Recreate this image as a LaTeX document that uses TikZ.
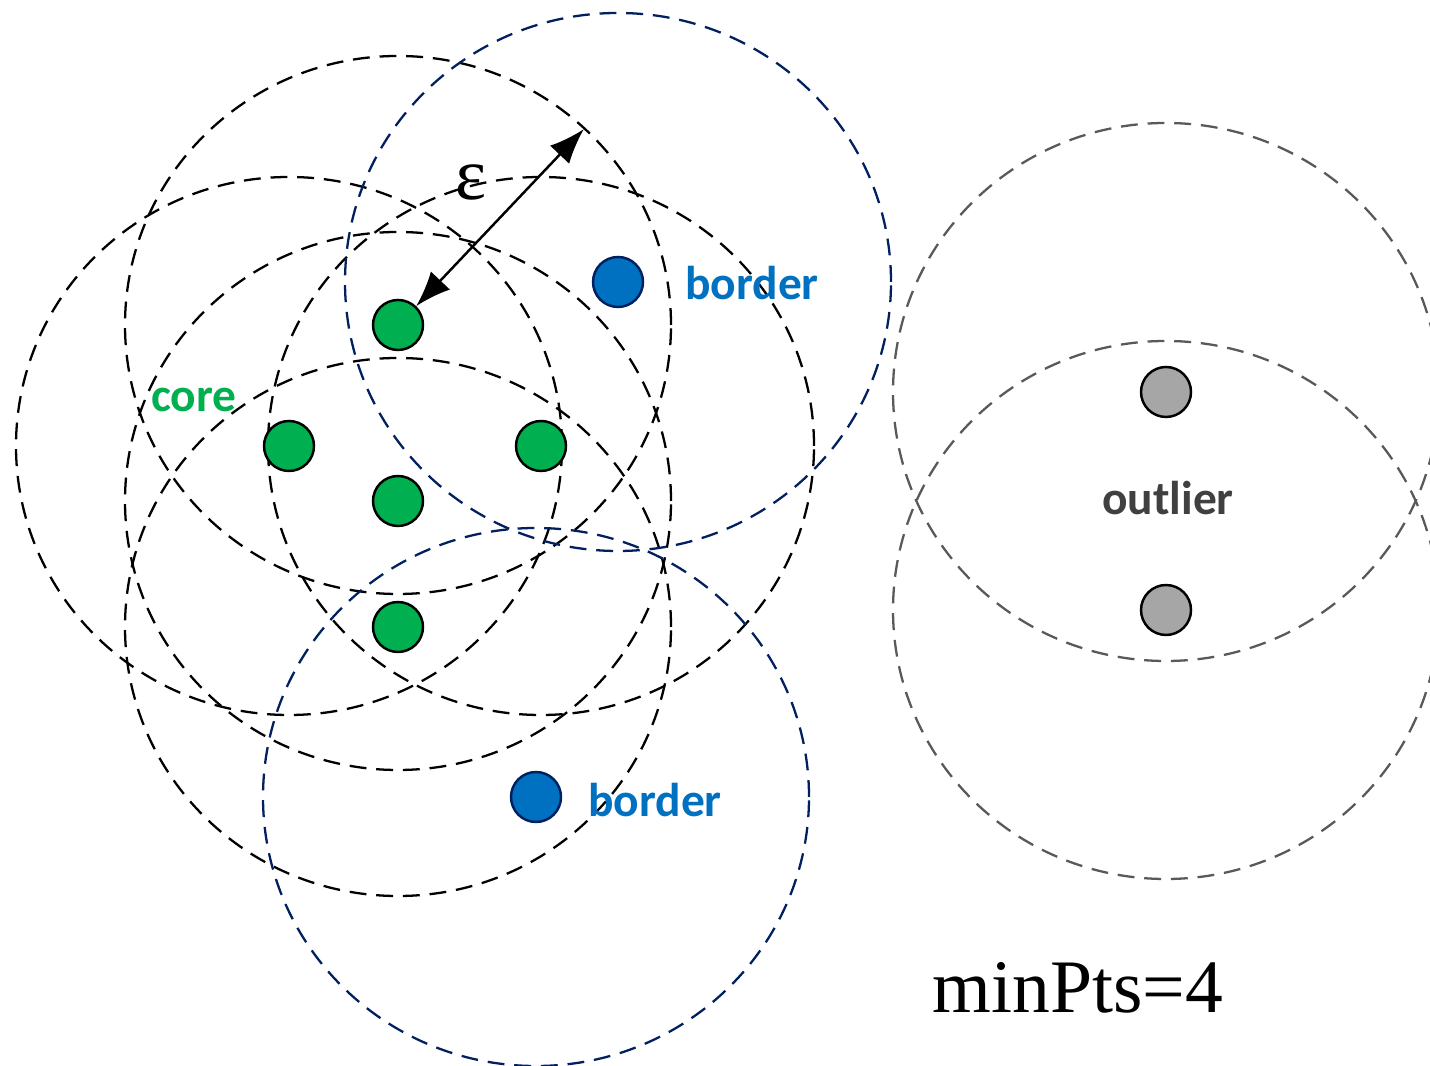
\documentclass[tikz,border=0pt]{standalone}
\usepackage{fontspec}
\setmainfont{Liberation Serif}
\newfontfamily\labelfont{Carlito}
\usetikzlibrary{calc, arrows.meta}

\definecolor{coregreen}{HTML}{00B050}
\definecolor{borderblue}{HTML}{0070C0}
\definecolor{bordernavy}{HTML}{002060}
\definecolor{outgray}{HTML}{A6A6A6}
\definecolor{outtext}{HTML}{404040}
\definecolor{outring}{HTML}{595959}

\begin{document}
\begin{tikzpicture}[
  ring/.style={dash pattern=on 4.8pt off 2.8pt, line width=0.65pt},
  dot/.style={circle, draw, line width=0.7pt, minimum size=0.5cm, inner sep=0pt},
  corept/.style={dot, fill=coregreen, draw=black},
  borderpt/.style={dot, fill=borderblue, draw=bordernavy},
  outpt/.style={dot, fill=outgray, draw=black},
  tag/.style={font=\labelfont\bfseries\fontsize{13.5}{13.5}\selectfont},
  epsarrow/.style={{Latex[length=10pt, width=7.5pt]}-{Latex[length=10pt, width=7.5pt]}, line width=0.7pt},
]
\useasboundingbox (0,0) rectangle (14.3,10.66);

% 点的位置
\coordinate (C1) at (3.98, 7.41);
\coordinate (C2) at (2.89, 6.20);
\coordinate (C3) at (5.41, 6.20);
\coordinate (C4) at (3.98, 5.65);
\coordinate (C5) at (3.98, 4.39);
\coordinate (B1) at (6.18, 7.84);
\coordinate (B2) at (5.36, 2.69);
\coordinate (O1) at (11.66, 6.74);
\coordinate (O2) at (11.66, 4.56);

% 邻域圆 (半径 eps)
\foreach \p in {C1, C2, C3, C4, C5}
  \draw[ring, black] (\p) ellipse [x radius=2.73, y radius=2.69];
\foreach \p in {B1, B2}
  \draw[ring, bordernavy] (\p) ellipse [x radius=2.73, y radius=2.69];
\foreach \p in {O1, O2}
  \draw[ring, outring] (\p) ellipse [x radius=2.73, y radius=2.69];

% 核心点、边界点、噪声点
\node[corept] (c1) at (C1) {};
\node[corept] (c2) at (C2) {};
\node[corept] (c3) at (C3) {};
\node[corept] (c4) at (C4) {};
\node[corept] (c5) at (C5) {};
\node[borderpt] (b1) at (B1) {};
\node[borderpt] (b2) at (B2) {};
\node[outpt] (o1) at (O1) {};
\node[outpt] (o2) at (O2) {};

% eps 半径
\coordinate (E) at ($(C1) + (46.5:2.70)$);
\draw[epsarrow] (c1.46.5) -- (E);
\node (eps) at (4.71, 8.84) {\fontsize{21}{21}\selectfont ε};

% 标注
\node[tag, text=coregreen] (coretxt) at (1.94, 6.66) {core};
\node[tag, text=borderblue] (bordtxt1) at (7.52, 7.83) {border};
\node[tag, text=borderblue] (bordtxt2) at (6.55, 2.66) {border};
\node[tag, text=outtext] (outtxt) at (11.68, 5.68) {outlier};
\node[anchor=base, font=\fontsize{21.5}{21.5}\selectfont] (minpts) at (10.78, 0.53) {minPts=4};

\end{tikzpicture}
\end{document}
